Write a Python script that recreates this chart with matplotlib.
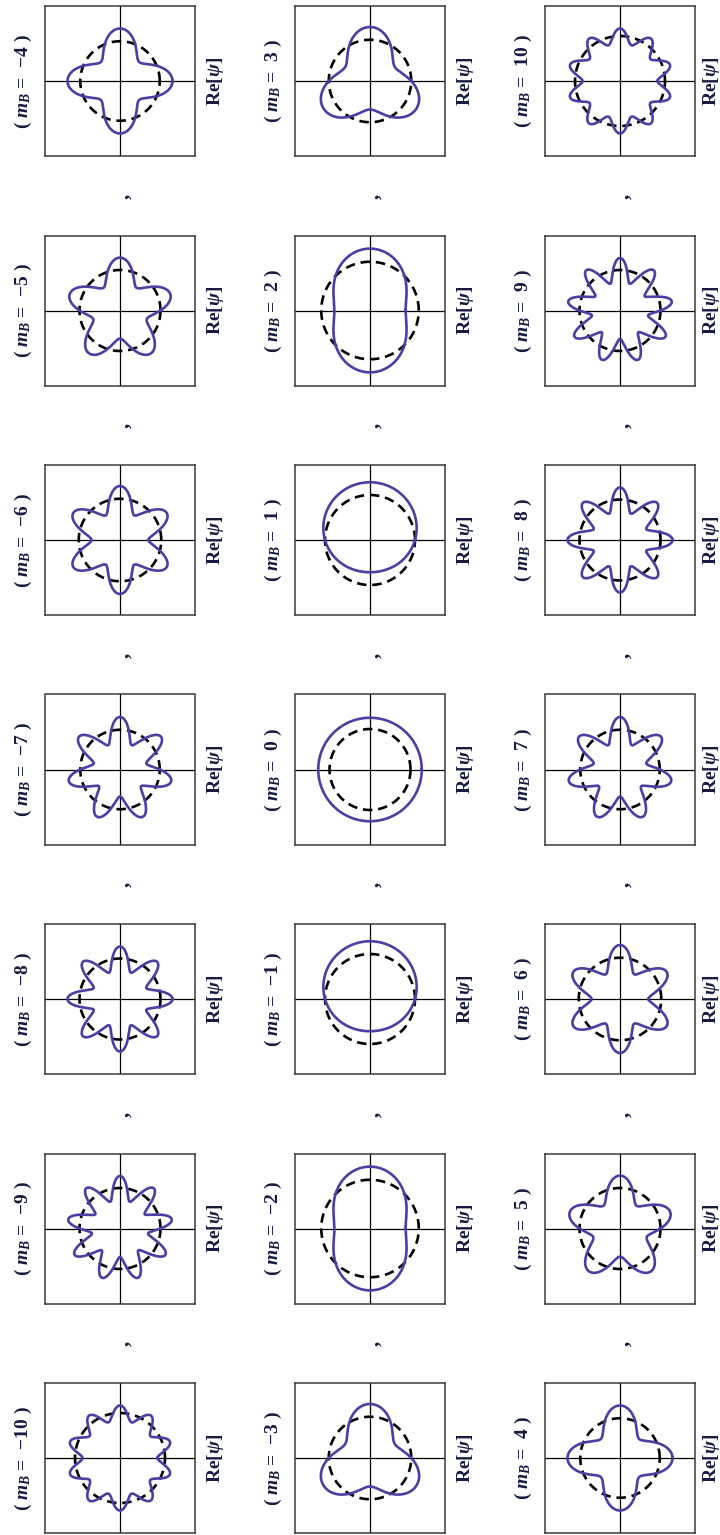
import numpy as np
import matplotlib.pyplot as plt

plt.rcParams['mathtext.fontset'] = 'custom'
plt.rcParams['mathtext.rm'] = 'Liberation Serif:bold'
plt.rcParams['mathtext.it'] = 'Liberation Serif:italic:bold'
plt.rcParams['mathtext.bf'] = 'Liberation Serif:bold'

# angular momentum index shown in each panel, one list per column (top to bottom)
m_left = [-4, -5, -6, -7, -8, -9, -10]
m_mid = [3, 2, 1, 0, -1, -2, -3]
m_right = [10, 9, 8, 7, 6, 5, 4]

# unperturbed ring radius and ripple amplitude, indexed by |m|
base_radius = [0.54, 0.60, 0.65, 0.55, 0.53, 0.54, 0.55, 0.53, 0.54, 0.54, 0.60]
ripple_amp = [0.15, 0.17, 0.175, 0.17, 0.17, 0.165, 0.17, 0.17, 0.16, 0.16, 0.10]

W, H = 720, 1535
BOX = 150
col_x = [45, 295, 545]
row_top0, row_step = 6, 229.5

blue = '#4a3fa2'
txt_col = '#161a40'

fig = plt.figure(figsize=(W / 100, H / 100), dpi=100)
th = np.linspace(0, 2 * np.pi, 1200)


def fx(px):
    return px / W


def fy(py):
    return 1 - py / H


for c, ms in enumerate([m_left, m_mid, m_right]):
    x0 = col_x[c]
    for r, m in enumerate(ms):
        y0 = row_top0 + r * row_step
        ax = fig.add_axes([fx(x0), fy(y0 + BOX), BOX / W, BOX / H])
        ax.set_xlim(-1, 1)
        ax.set_ylim(-1, 1)
        ax.set_xticks([])
        ax.set_yticks([])
        for s in ax.spines.values():
            s.set_color('#3a3a3a')
            s.set_linewidth(1.1)
        ax.axhline(0, color='k', lw=0.9)
        ax.axvline(0, color='k', lw=0.9)

        R = base_radius[abs(m)]
        a = ripple_amp[abs(m)]
        ax.plot(R * np.cos(th), R * np.sin(th), color='k', lw=1.9,
                dashes=(3.6, 2.2))
        rr = R + a * np.cos(m * (th - np.pi / 2))
        ax.plot(rr * np.cos(th), rr * np.sin(th), color=blue, lw=1.9)

        yc = y0 + BOX / 2
        sign = '\u2212' if m < 0 else ''
        lab = r'( $m_B$ =  ' + sign + str(abs(m)) + ' )'
        fig.text(fx(x0 - 22), fy(yc), lab, rotation=90, ha='center',
                 va='center', color=txt_col, fontsize=14,
                 family='Liberation Serif', weight='bold')
        re_x = min(x0 + BOX + 20, W - 9)
        fig.text(fx(re_x), fy(yc), r'Re[$\psi$]', rotation=90,
                 ha='center', va='center', color=txt_col, fontsize=14,
                 family='Liberation Serif', weight='bold')
        if r < len(ms) - 1:
            fig.text(fx(x0 + BOX / 2 + 3), fy(y0 + BOX + 40), ',',
                     rotation=90, ha='center', va='center', color=txt_col,
                     fontsize=15, family='Liberation Serif', weight='bold')

fig.savefig('out.png', dpi=100)
